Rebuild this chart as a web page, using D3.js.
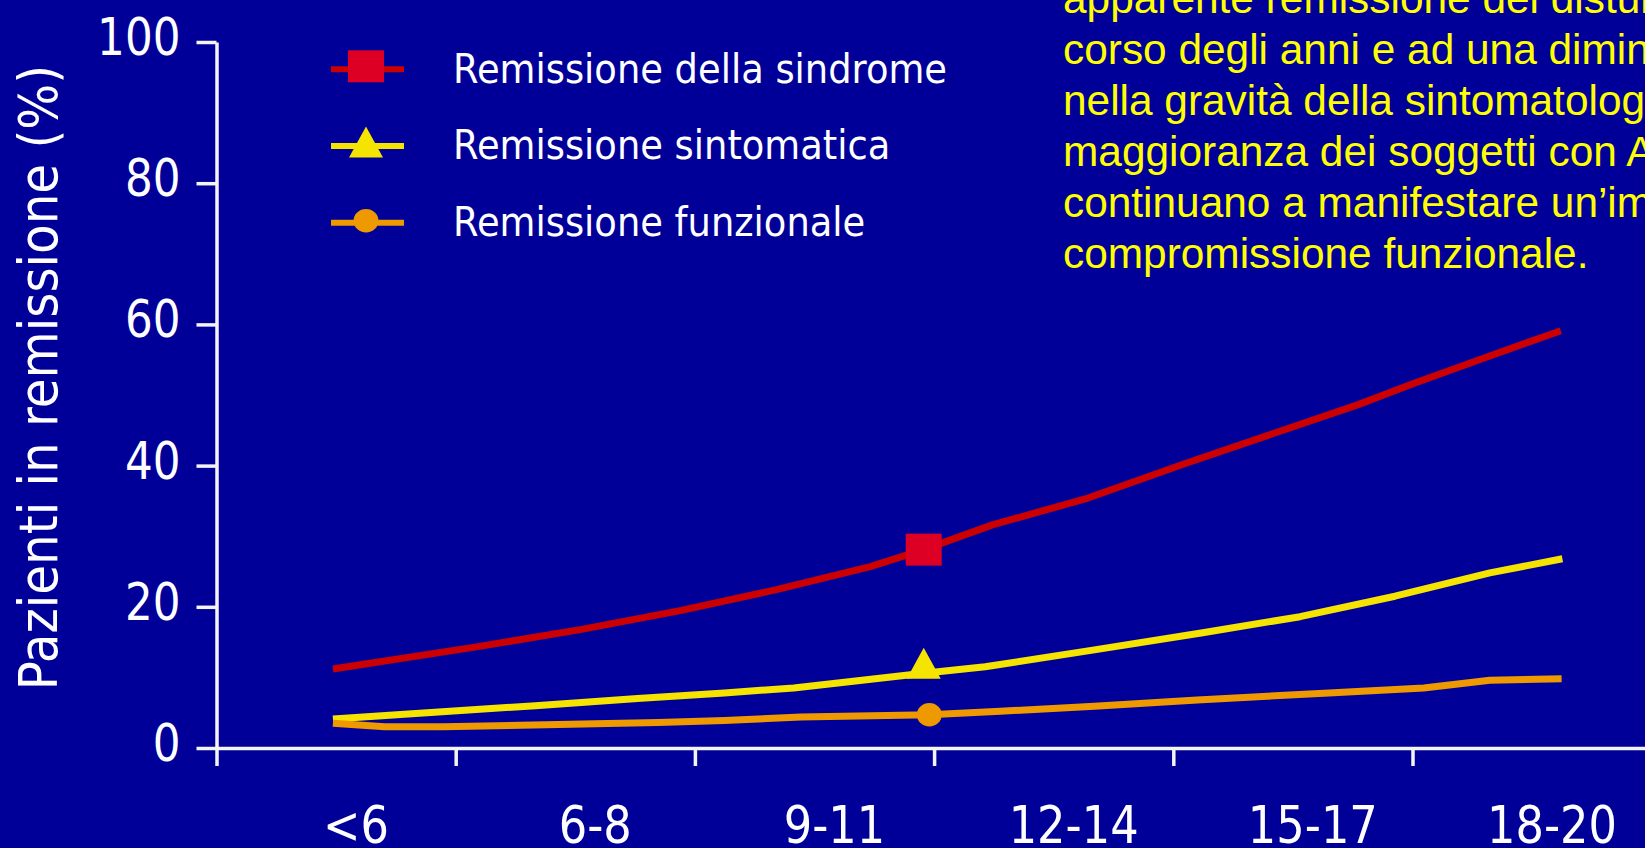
<!DOCTYPE html>
<html>
<head>
<meta charset="utf-8">
<script src="https://cdn.jsdelivr.net/npm/d3@7"></script>
<style>
  html, body { margin: 0; padding: 0; background: #000099; overflow: hidden; }
  svg { display: block; }
</style>
</head>
<body>
<svg id="chart" width="1645" height="848"></svg>
<script>
// Age groups on the x axis (each group starts at the given age, 3 years wide)
const ageGroups   = ["<6", "6-8", "9-11", "12-14", "15-17", "18-20"];
const groupStarts = [3, 6, 9, 12, 15, 18];
const yTicks      = [0, 20, 40, 60, 80, 100];

// Remissione della sindrome
const sindromeAge = [4.46, 6.30, 7.58, 8.83, 10.01, 11.20, 11.87, 12.73, 13.93, 15.15, 17.31, 18.03, 18.96, 19.86];
const sindromePct = [11.2, 14.4, 16.8, 19.5, 22.4, 25.7, 28.1, 31.6, 35.4, 40.3, 48.6, 51.7, 55.5, 59.1];
// Remissione sintomatica
const sintomaticaAge = [4.46, 7.00, 8.28, 9.37, 10.24, 11.87, 12.64, 14.01, 15.35, 16.59, 17.78, 18.97, 19.88];
const sintomaticaPct = [4.1, 6.0, 7.0, 7.8, 8.5, 10.6, 11.5, 13.9, 16.3, 18.6, 21.5, 24.8, 26.8];
// Remissione funzionale
const funzionaleAge = [4.46, 5.11, 5.85, 8.54, 9.37, 10.33, 11.94, 12.83, 14.01, 15.30, 16.95, 18.14, 18.97, 19.87];
const funzionalePct = [3.5, 3.0, 3.0, 3.6, 3.9, 4.4, 4.7, 5.2, 5.9, 6.8, 7.8, 8.5, 9.6, 9.8];

const seriesNames   = ["Remissione della sindrome", "Remissione sintomatica", "Remissione funzionale"];
const markerIndex   = [6, 5, 6];

const noteLines = [
  "apparente remissione dei disturbi nel",
  "corso degli anni e ad una diminuzione",
  "nella gravità della sintomatologia, la",
  "maggioranza dei soggetti con ADHD",
  "continuano a manifestare un’importante",
  "compromissione funzionale."
];
const yTitle = "Pazienti in remissione (%)";

// ---- styling ----
const BG = "#000099";
const AXIS = "#f4f4f4";
const TAHOMA_LIKE = "'DejaVu Sans', Verdana, sans-serif";
const series = [
  { name: seriesNames[0], age: sindromeAge,    pct: sindromePct,    line: "#cc0000", mark: "#dd0024", shape: "square"   },
  { name: seriesNames[1], age: sintomaticaAge, pct: sintomaticaPct, line: "#f5e400", mark: "#f5e400", shape: "triangle" },
  { name: seriesNames[2], age: funzionaleAge,  pct: funzionalePct,  line: "#ee9900", mark: "#ee9900", shape: "circle"   }
];
series.forEach((s, i) => s.marker = markerIndex[i]);

const svg = d3.select("#chart");
svg.append("rect").attr("width", 1645).attr("height", 848).attr("fill", BG);

const x = d3.scaleLinear().domain([3, 21]).range([216.5, 216.5 + 6 * 239.2]);
const y = d3.scaleLinear().domain([0, 100]).range([748, 42]);

// squeeze text horizontally so the wide DejaVu glyphs read like a narrow sans
function condense(sel, factor) {
  sel.each(function () {
    const w = this.getComputedTextLength();
    d3.select(this).attr("textLength", w * factor).attr("lengthAdjust", "spacingAndGlyphs");
  });
}

// ---- axes ----
const yAxis = svg.append("g")
  .attr("transform", `translate(${x(3)},0)`)
  .call(d3.axisLeft(y).tickValues(yTicks).tickSize(20).tickSizeOuter(0).tickPadding(16));
const xAxis = svg.append("g")
  .attr("transform", `translate(0,${y(0)})`)
  .call(d3.axisBottom(x).tickValues(groupStarts).tickSize(18).tickSizeOuter(0).tickFormat(""));

[yAxis, xAxis].forEach(g => {
  g.select(".domain").attr("stroke", AXIS).attr("stroke-width", 3.5);
  g.selectAll(".tick line").attr("stroke", AXIS).attr("stroke-width", 3.5);
});
yAxis.selectAll(".tick text")
  .attr("fill", "#ffffff").attr("font-family", TAHOMA_LIKE).attr("font-size", 52)
  .attr("dy", "0.24em")
  .call(condense, 0.84);

svg.append("g").selectAll("text").data(ageGroups).join("text")
  .attr("x", (d, i) => x(groupStarts[i] + 1.75))
  .attr("y", 843)
  .attr("text-anchor", "middle")
  .attr("fill", "#ffffff").attr("font-family", TAHOMA_LIKE).attr("font-size", 52)
  .text(d => d)
  .call(condense, 0.86);

// y-axis title
svg.append("text")
  .attr("transform", `translate(57,377.5) rotate(-90)`)
  .attr("text-anchor", "middle")
  .attr("fill", "#ffffff").attr("font-family", TAHOMA_LIKE).attr("font-size", 53)
  .text(yTitle)
  .call(condense, 0.913);

// ---- markers ----
function drawMarker(g, shape, cx, cy, color) {
  if (shape === "square") {
    g.append("rect").attr("x", cx - 18).attr("y", cy - 16).attr("width", 36).attr("height", 32).attr("fill", color);
  } else if (shape === "triangle") {
    const w = 34, h = 31;
    g.append("path").attr("d", `M${cx},${cy - h / 2}L${cx + w / 2},${cy + h / 2}L${cx - w / 2},${cy + h / 2}Z`).attr("fill", color);
  } else {
    g.append("ellipse").attr("cx", cx).attr("cy", cy).attr("rx", 12.5).attr("ry", 11.7).attr("fill", color);
  }
}
const markerOffset = { square: 0, triangle: -10, circle: 0 };

// ---- lines ----
const line = d3.line().x(d => x(d[0])).y(d => y(d[1]));
const plot = svg.append("g");
series.forEach(s => {
  const pts = s.age.map((a, i) => [a, s.pct[i]]);
  plot.append("path").datum(pts)
    .attr("d", line)
    .attr("fill", "none").attr("stroke", s.line).attr("stroke-width", 7)
    .attr("stroke-linejoin", "round");
});
series.forEach(s => {
  const m = s.marker;
  drawMarker(plot, s.shape, x(s.age[m]), y(s.pct[m]) + markerOffset[s.shape], s.mark);
});

// ---- legend ----
const legend = svg.append("g");
const legendOffset = { square: -3, triangle: -4, circle: -2 };
series.forEach((s, i) => {
  const ly = 69.3 + i * 76.7;
  legend.append("line").attr("x1", 331).attr("x2", 404).attr("y1", ly).attr("y2", ly)
    .attr("stroke", s.line).attr("stroke-width", 6);
  drawMarker(legend, s.shape, 366, ly + legendOffset[s.shape], s.mark);
});
const legendTexts = legend.selectAll("text.lg").data(series).join("text")
  .attr("class", "lg")
  .attr("x", 453).attr("y", (d, i) => 69.3 + i * 76.7 + 13.4)
  .attr("fill", "#ffffff").attr("font-family", TAHOMA_LIKE).attr("font-size", 40.5)
  .text(d => d.name);
const firstW = legendTexts.node().getComputedTextLength();
legendTexts.call(condense, 494 / firstW);

// ---- annotation ----
svg.append("g").selectAll("text").data(noteLines).join("text")
  .attr("x", 1063).attr("y", (d, i) => 12.8 + i * 51.1)
  .attr("fill", "#ffff00").attr("font-family", "'Liberation Sans', Arial, sans-serif").attr("font-size", 42.4)
  .text(d => d);
</script>
</body>
</html>
